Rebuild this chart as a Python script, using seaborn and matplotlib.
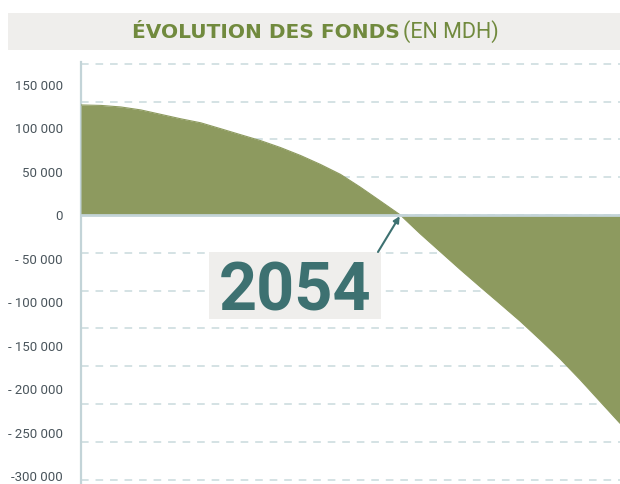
import matplotlib
matplotlib.use("Agg")
import matplotlib.pyplot as plt
from matplotlib.patches import Rectangle
import pandas as pd
import seaborn as sns

# Projection of the fund balance (millions of dirhams)
years = [2022, 2024, 2026, 2028, 2030, 2032, 2034, 2036, 2038, 2040,
         2042, 2044, 2046, 2048, 2050, 2052, 2054, 2056, 2058, 2060,
         2062, 2064, 2066, 2068, 2070, 2072, 2074, 2076]
fonds = [126500, 126000, 124200, 120800, 115700, 110600, 106000, 99200,
         92300, 85500, 77500, 68400, 58100, 46700, 31900, 16000, 0,
         -21700, -42200, -62700, -82600, -102200, -122000, -143300,
         -165300, -189200, -214300, -239400]

tick_values = [150000, 100000, 50000, 0, -50000, -100000, -150000,
               -200000, -250000, -300000]
tick_labels = ["150 000", "100 000", "50 000", "0", "- 50 000", "- 100 000",
               "- 150 000", "- 200 000", "- 250 000", "-300 000"]
grid_values = [200000, 150000, 100000, 50000, 0, -50000, -100000, -150000,
               -200000, -250000, -300000, -350000]

annee_epuisement = 2054
title_bold = "ÉVOLUTION DES FONDS"
title_light = "(EN MDH)"

OLIVE = "#8d9a5f"
TITLE_GREEN = "#718a3e"
TEAL = "#3d7171"
BAR_GREY = "#efeeec"
AXIS_BLUE = "#c3d4d8"
GRID_BLUE = "#c9dadd"
LABEL_GREY = "#4a555c"

sns.set_style("white")
plt.rcParams["font.family"] = ["Roboto", "DejaVu Sans"]

W, H = 620, 484
fig = plt.figure(figsize=(W / 100, H / 100), dpi=100)
fig.patch.set_facecolor("white")

# Title band
fig.patches.append(Rectangle((8 / W, 1 - 50 / H), 1 - 8 / W, 37 / H,
                             transform=fig.transFigure, facecolor=BAR_GREY,
                             edgecolor="none", zorder=0))
fig.text(400 / W, 1 - 32 / H, title_bold, ha="right", va="center",
         fontsize=14.5, fontweight="bold", color=TITLE_GREEN,
         family=["DejaVu Sans"])
fig.text(403 / W, 1 - 32 / H, title_light, ha="left", va="center",
         fontsize=15.5, fontweight="normal", color=TITLE_GREEN,
         family=["Roboto", "DejaVu Sans"])

# Base axes: vertical axis line and dashed grid
ax = fig.add_axes([81 / W, 0, 1 - 81 / W, (H - 62) / H])
ax.set_facecolor("none")
ax.set_xlim(years[0], years[-1])
ax.set_ylim(-355800, 202400)
ax.set_yticks(grid_values)
ax.set_xticks([])
ax.tick_params(axis="y", length=0, labelleft=False)
ax.grid(axis="y", color=GRID_BLUE, linestyle=(0, (5, 4.5)), linewidth=1.1)
for side in ["top", "right", "bottom"]:
    ax.spines[side].set_visible(False)
ax.spines["left"].set_color(AXIS_BLUE)
ax.spines["left"].set_linewidth(1.6)

# Data axes with the printed value scale
dax = ax.twinx()
dax.set_xlim(years[0], years[-1])
dax.set_ylim(-309200, 175900)
df = pd.DataFrame({"annee": years, "fonds": fonds})
dax.fill_between(df["annee"], df["fonds"], 0, color=OLIVE, linewidth=0,
                 zorder=2)
sns.lineplot(data=df, x="annee", y="fonds", ax=dax, color=OLIVE,
             linewidth=0.8, zorder=2)
dax.axhline(0, color=AXIS_BLUE, linewidth=2, zorder=3)

dax.yaxis.tick_left()
dax.set_yticks(tick_values)
dax.set_yticklabels(tick_labels)
dax.tick_params(axis="y", length=0, pad=13, labelsize=9.5,
                labelcolor=LABEL_GREY)
dax.set_xlabel("")
dax.set_ylabel("")
dax.set_xticks([])
for side in ["top", "right", "bottom", "left"]:
    dax.spines[side].set_visible(False)

# Year when the fund turns negative: boxed label with an arrow to the crossing
dax.add_patch(Rectangle((0.2375, 0.391), 0.3191, 0.1588,
                        transform=dax.transAxes, facecolor=BAR_GREY,
                        edgecolor="none", zorder=4))
dax.text(0.397, 0.4123, str(annee_epuisement), transform=dax.transAxes,
         ha="center", va="baseline", fontsize=48, fontweight="bold",
         color=TEAL, zorder=5)
dax.annotate("", xy=(annee_epuisement, 0), xytext=(0.551, 0.5498),
             textcoords="axes fraction", zorder=5,
             arrowprops=dict(arrowstyle="-|>", color=TEAL, linewidth=1.5,
                             mutation_scale=9, shrinkA=0, shrinkB=1))

fig.savefig("out.png", dpi=100)
